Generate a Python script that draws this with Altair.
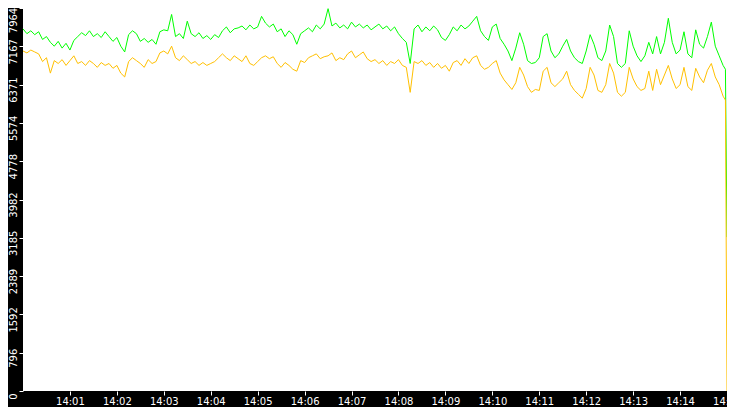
import pandas as pd
import altair as alt

# sample times: every 5 s from 14:00:00, plus the last two readings
times = list(pd.date_range("2024-01-01 14:00:00", periods=180, freq="5s"))
times += [pd.Timestamp("2024-01-01 14:14:58"), pd.Timestamp("2024-01-01 14:15:00")]

green = [7530, 7430, 7490, 7410, 7470, 7310, 7370, 7250, 7170, 7270,
         7130, 7230, 7090, 7290, 7370, 7450, 7390, 7490, 7370, 7430,
         7350, 7470, 7370, 7270, 7350, 7170, 7050, 7410, 7490, 7430,
         7270, 7330, 7250, 7310, 7210, 7470, 7510, 7490, 7830, 7370,
         7430, 7330, 7690, 7430, 7370, 7450, 7330, 7390, 7310, 7410,
         7350, 7490, 7570, 7450, 7530, 7550, 7590, 7510, 7610, 7530,
         7570, 7790, 7650, 7570, 7630, 7470, 7530, 7370, 7490, 7410,
         7210, 7430, 7490, 7550, 7470, 7610, 7530, 7630, 7950, 7590,
         7650, 7550, 7610, 7530, 7670, 7570, 7630, 7550, 7610, 7510,
         7570, 7630, 7530, 7590, 7490, 7570, 7430, 7330, 7250, 6810,
         7530, 7610, 7470, 7570, 7490, 7590, 7510, 7350, 7290, 7410,
         7570, 7490, 7610, 7530, 7590, 7690, 7790, 7490, 7370, 7290,
         7570, 7630, 7330, 7210, 7070, 6870, 7130, 7450, 7210, 6870,
         6810, 6830, 6930, 7370, 7430, 7070, 6930, 7010, 7170, 7310,
         7070, 6930, 6850, 6810, 7070, 7410, 7210, 6930, 6870, 7070,
         7610, 7370, 6810, 6730, 6810, 7490, 7170, 6970, 6850, 6970,
         7250, 7010, 7370, 7010, 7250, 7750, 7250, 7010, 7090, 7470,
         7010, 6930, 7510, 7210, 7130, 7370, 7670, 7170, 6970, 6770,
         6690, 3200]

yellow = [7070, 7030, 7090, 7050, 7010, 6850, 6930, 6610, 6870, 6810,
          6890, 6770, 6870, 6970, 6810, 6850, 6770, 6870, 6810, 6730,
          6830, 6770, 6810, 6710, 6770, 6610, 6530, 6850, 6930, 6870,
          6810, 6730, 6890, 6810, 6850, 7030, 7070, 7010, 7170, 6930,
          6870, 6970, 6890, 6810, 6850, 6770, 6830, 6770, 6810, 6850,
          6930, 7010, 6930, 6870, 6970, 6910, 6850, 6970, 6810, 6770,
          6850, 6930, 6970, 6910, 6950, 6810, 6730, 6830, 6770, 6690,
          6650, 6870, 6830, 6930, 6970, 7010, 6910, 6950, 6970, 7030,
          6870, 6930, 6890, 7010, 7070, 6930, 6990, 7050, 6910, 6850,
          6890, 6810, 6870, 6770, 6850, 6810, 6890, 6770, 6730, 6210,
          6850, 6810, 6870, 6770, 6830, 6730, 6810, 6710, 6770, 6650,
          6830, 6870, 6770, 6910, 6810, 6930, 6970, 6770, 6690, 6730,
          6810, 6870, 6610, 6470, 6370, 6270, 6410, 6730, 6570, 6330,
          6210, 6270, 6250, 6650, 6730, 6410, 6330, 6410, 6490, 6650,
          6370, 6250, 6170, 6090, 6290, 6730, 6570, 6250, 6210, 6370,
          6810, 6610, 6210, 6130, 6210, 6730, 6490, 6330, 6250, 6290,
          6650, 6250, 6690, 6370, 6570, 6770, 6490, 6290, 6370, 6730,
          6330, 6250, 6710, 6530, 6410, 6670, 6810, 6530, 6370, 6130,
          6050, 0]

y_ticks = [0, 796.4, 1592.8, 2389.2, 3185.6, 3982, 4778.4, 5574.8, 6371.2, 7167.6, 7964]
x_ticks = [alt.DateTime(year=2024, month=1, date=1, hours=14, minutes=m) for m in range(1, 16)]

df = pd.concat([
    pd.DataFrame({"time": times, "value": green, "series": "green"}),
    pd.DataFrame({"time": times, "value": yellow, "series": "yellow"}),
])
df["time"] = df["time"].dt.strftime("%Y-%m-%dT%H:%M:%S")

font = "DejaVu Sans"

chart = alt.Chart(df).mark_line(strokeWidth=1).encode(
    x=alt.X("time:T", title=None,
            scale=alt.Scale(domain=[alt.DateTime(year=2024, month=1, date=1, hours=14, minutes=0),
                                    alt.DateTime(year=2024, month=1, date=1, hours=14, minutes=15)]),
            axis=alt.Axis(values=x_ticks, format="%H:%M", grid=False, domain=False,
                          tickColor="white", tickSize=4, labelColor="white",
                          labelFont=font, labelFontSize=10, labelPadding=1,
                          labelAlign="center", labelBaseline="top")),
    y=alt.Y("value:Q", title=None,
            scale=alt.Scale(domain=[0, 7964], nice=False, zero=True),
            axis=alt.Axis(values=y_ticks, labelExpr="floor(datum.value)", grid=False,
                          domain=False, tickColor="white", tickSize=4, labelColor="white",
                          labelFont=font, labelFontSize=10, labelPadding=1, labelAngle=270,
                          labelAlign="center", labelBaseline="bottom",
                          labelOffset={"condition": {"test": "datum.value > 7900", "value": 12},
                                       "value": 5})),
    color=alt.Color("series:N", legend=None,
                    scale=alt.Scale(domain=["green", "yellow"], range=["#00ff00", "#ffc000"])),
    detail="series:N",
).properties(
    width=704,
    height=383,
    background="black",
    padding={"left": 15, "top": 0, "right": 0, "bottom": 16},
    autosize=alt.AutoSizeParams(type="none"),
).configure_view(fill="white", strokeWidth=0)

chart.save("out.html", embed_options={"renderer": "svg", "actions": False})
